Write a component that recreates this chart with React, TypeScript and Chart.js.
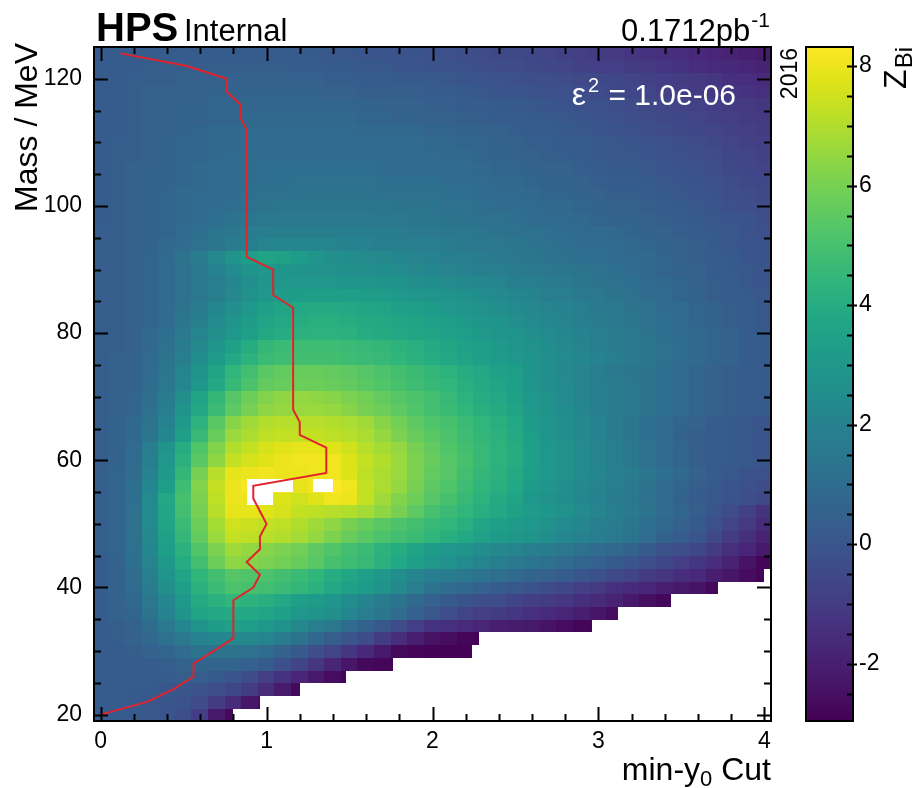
import React, { useEffect, useRef } from "react";
import { Chart, registerables } from "chart.js";

Chart.register(...registerables);

const FONT = '"Liberation Sans", Arial, Helvetica, sans-serif';

// Mass bin centres (MeV), 2 MeV wide
const massBins = [
  20, 22, 24, 26, 28, 30, 32, 34, 36, 38, 40, 42, 44, 46, 48, 50, 52, 54, 56, 58,
  60, 62, 64, 66, 68, 70, 72, 74, 76, 78, 80, 82, 84, 86, 88, 90, 92, 94, 96, 98,
  100, 102, 104, 106, 108, 110, 112, 114, 116, 118, 120, 122, 124,
];
const MASS_HALF_WIDTH = 1;

// min-y0 cut column centres, 0.1 wide
const cutBins = [
  0.0, 0.1, 0.2, 0.3, 0.4, 0.5, 0.6, 0.7, 0.8, 0.9, 1.0, 1.1, 1.2, 1.3, 1.4, 1.5, 1.6, 1.7, 1.8, 1.9, 2.0,
  2.1, 2.2, 2.3, 2.4, 2.5, 2.6, 2.7, 2.8, 2.9, 3.0, 3.1, 3.2, 3.3, 3.4, 3.5, 3.6, 3.7, 3.8, 3.9, 4.0,
];
const CUT_HALF_WIDTH = 0.05;

// Z_Bi significance, one row per mass bin (ascending mass), one entry per cut column;
// rows stop where the bins run out of entries
const zBi: number[][] = [
  [0.3, 0.3, 0.2, 0.1, 0.0, -0.3, -0.9, -2.2, -2.7],
  [0.3, 0.3, 0.2, 0.1, 0.0, -0.1, -0.4, -1.0, -1.6, -2.3, -2.6],
  [0.3, 0.3, 0.2, 0.2, 0.1, 0.0, -0.1, -0.3, -0.6, -1.0, -1.5, -2.1, -2.7],
  [0.3, 0.3, 0.3, 0.3, 0.3, 0.4, 0.4, 0.2, 0.0, -0.4, -0.9, -1.3, -1.8, -2.2, -2.6, -2.8],
  [0.3, 0.3, 0.3, 0.3, 0.4, 0.6, 0.7, 0.7, 0.7, 0.5, 0.3, -0.2, -0.7, -1.2, -1.8, -2.3, -2.7, -2.8, -2.9],
  [0.3, 0.3, 0.4, 0.5, 0.7, 1.0, 1.3, 1.3, 1.3, 1.2, 1.0, 0.6, 0.2, -0.3, -0.7, -1.2, -1.7, -2.2, -2.7, -2.8, -2.9, -2.9, -2.9],
  [0.3, 0.4, 0.5, 0.8, 1.2, 1.6, 2.0, 2.2, 2.3, 2.3, 2.1, 1.7, 1.3, 0.8, 0.4, 0.0, -0.4, -1.0, -1.5, -2.0, -2.4, -2.6, -2.8, -2.9],
  [0.3, 0.4, 0.6, 1.0, 1.6, 2.2, 2.8, 3.2, 3.5, 3.3, 3.0, 2.7, 2.3, 1.9, 1.5, 1.0, 0.6, 0.1, -0.4, -0.9, -1.3, -1.4, -1.6, -1.8, -2.0, -2.1, -2.2, -2.4, -2.6, -2.8, -2.9],
  [0.3, 0.5, 0.7, 1.3, 2.0, 2.8, 3.6, 3.8, 3.9, 3.8, 3.7, 3.4, 3.0, 2.8, 2.6, 2.2, 1.8, 1.4, 1.0, 0.5, 0.1, -0.3, -0.7, -0.9, -1.0, -1.2, -1.4, -1.6, -1.8, -2.0, -2.3, -2.6],
  [0.3, 0.5, 0.8, 1.5, 2.2, 3.1, 3.9, 4.2, 4.4, 4.3, 4.1, 3.8, 3.4, 3.2, 2.9, 2.5, 2.1, 1.7, 1.3, 0.9, 0.5, 0.2, -0.1, -0.3, -0.4, -0.7, -0.9, -1.0, -1.2, -1.4, -1.6, -1.9, -2.2, -2.5, -2.7],
  [0.3, 0.6, 0.9, 1.7, 2.6, 3.4, 4.2, 4.7, 5.1, 5.0, 4.9, 4.7, 4.5, 4.2, 3.8, 3.5, 3.2, 2.8, 2.3, 1.8, 1.3, 1.0, 0.8, 0.5, 0.3, 0.1, -0.1, -0.4, -0.6, -0.9, -1.1, -1.4, -1.6, -1.8, -2.0, -2.2, -2.4, -2.7],
  [0.3, 0.6, 1.0, 1.9, 2.8, 3.6, 4.4, 4.9, 5.3, 5.2, 5.1, 4.9, 4.7, 4.4, 4.0, 3.7, 3.4, 3.0, 2.5, 2.1, 1.8, 1.7, 1.5, 1.3, 1.1, 0.9, 0.7, 0.5, 0.3, 0.0, -0.2, -0.5, -0.7, -1.0, -1.2, -1.5, -1.7, -2.0, -2.3, -2.6, -2.8],
  [0.3, 0.6, 1.1, 2.1, 3.1, 4.0, 4.9, 5.8, 6.4, 6.3, 6.1, 5.9, 5.7, 5.4, 5.0, 4.8, 4.6, 4.2, 3.8, 3.4, 3.0, 2.7, 2.4, 2.1, 1.9, 1.6, 1.4, 1.2, 1.0, 0.7, 0.5, 0.2, 0.0, -0.3, -0.6, -0.9, -1.2, -1.5, -1.9, -2.4, -2.8],
  [0.4, 0.7, 1.2, 2.2, 3.3, 4.2, 5.2, 6.1, 6.7, 6.5, 6.3, 6.1, 5.9, 5.5, 5.2, 4.9, 4.7, 4.3, 4.0, 3.6, 3.2, 3.0, 2.8, 2.5, 2.3, 2.1, 1.9, 1.7, 1.5, 1.2, 1.0, 0.8, 0.6, 0.2, -0.1, -0.3, -0.6, -1.0, -1.4, -1.8, -2.2],
  [0.4, 0.7, 1.2, 2.3, 3.5, 4.5, 5.6, 6.6, 7.3, 7.2, 7.1, 7.0, 6.8, 6.5, 6.1, 5.7, 5.4, 5.1, 4.9, 4.7, 4.4, 4.1, 3.8, 3.5, 3.2, 3.0, 2.8, 2.5, 2.2, 2.0, 1.8, 1.6, 1.3, 1.0, 0.6, 0.3, 0.0, -0.5, -1.0, -1.4, -1.9],
  [0.4, 0.7, 1.2, 2.4, 3.6, 4.7, 5.8, 6.8, 7.5, 7.4, 7.3, 7.2, 7.0, 6.7, 6.4, 6.0, 5.7, 5.4, 5.1, 4.9, 4.6, 4.4, 4.1, 3.7, 3.4, 3.2, 3.0, 2.7, 2.4, 2.2, 1.9, 1.7, 1.4, 1.1, 0.8, 0.5, 0.2, -0.2, -0.7, -1.1, -1.6],
  [0.4, 0.7, 1.2, 2.4, 3.7, 4.9, 6.0, 7.1, 7.9, 7.9, 7.8, 7.6, 7.3, 7.2, 7.1, 7.0, 6.8, 6.4, 6.0, 5.5, 5.0, 4.7, 4.4, 4.1, 3.8, 3.5, 3.2, 3.0, 2.7, 2.4, 2.1, 1.9, 1.6, 1.3, 1.0, 0.7, 0.4, 0.0, -0.4, -0.8, -1.3],
  [0.4, 0.7, 1.1, 2.4, 3.8, 5.0, 6.1, 7.2, 8.0, 8.0, 7.9, 7.7, 7.5, 7.8, 8.1, 8.0, 7.3, 6.7, 6.2, 5.8, 5.3, 5.0, 4.6, 4.3, 3.9, 3.6, 3.0, 2.7, 2.5, 2.2, 2.0, 1.7, 1.5, 1.2, 0.9, 0.6, 0.3, 0.1, -0.1, -0.3, -0.5],
  [0.4, 0.7, 1.1, 2.2, 3.3, 4.8, 6.2, 7.3, 8.0, 8.2, 8.3, 8.1, 7.9, 8.1, 8.3, 8.1, 7.3, 6.9, 6.5, 6.0, 5.5, 5.2, 4.8, 4.4, 4.1, 3.8, 3.2, 2.9, 2.6, 2.3, 2.1, 1.8, 1.6, 1.3, 1.0, 0.7, 0.4, 0.2, 0.0, -0.2, -0.4],
  [0.4, 0.7, 1.0, 2.0, 3.1, 4.5, 6.0, 7.1, 7.9, 8.0, 8.1, 8.0, 8.0, 8.1, 8.1, 7.7, 7.2, 6.9, 6.6, 6.1, 5.6, 5.3, 4.9, 4.5, 4.2, 3.9, 3.3, 3.0, 2.7, 2.4, 2.2, 1.9, 1.7, 1.4, 1.1, 0.8, 0.5, 0.3, 0.1, -0.1, -0.2],
  [0.4, 0.6, 0.9, 1.9, 3.0, 4.2, 5.4, 6.4, 7.3, 7.6, 7.8, 8.0, 8.1, 8.1, 8.1, 7.7, 7.3, 7.0, 6.6, 6.1, 5.7, 5.3, 5.0, 4.6, 4.3, 4.0, 3.4, 3.0, 2.7, 2.4, 2.1, 1.8, 1.5, 1.2, 0.9, 0.7, 0.4, 0.3, 0.2, 0.1, 0.0],
  [0.4, 0.6, 0.9, 1.8, 2.8, 4.0, 5.2, 6.2, 7.0, 7.3, 7.6, 7.8, 7.9, 7.9, 7.8, 7.5, 7.1, 6.8, 6.5, 6.0, 5.6, 5.2, 4.9, 4.6, 4.3, 4.0, 3.4, 3.0, 2.7, 2.4, 2.1, 1.8, 1.5, 1.2, 0.9, 0.7, 0.4, 0.3, 0.2, 0.1, 0.0],
  [0.4, 0.6, 0.8, 1.4, 2.2, 3.4, 4.6, 5.7, 6.6, 6.9, 7.2, 7.3, 7.3, 7.3, 7.2, 7.1, 6.9, 6.5, 6.1, 5.7, 5.4, 5.1, 4.8, 4.5, 4.2, 3.9, 3.3, 2.9, 2.6, 2.3, 2.0, 1.7, 1.4, 1.1, 0.9, 0.6, 0.4, 0.3, 0.2, 0.1, 0.0],
  [0.4, 0.6, 0.8, 1.3, 2.0, 3.1, 4.3, 5.4, 6.3, 6.7, 7.0, 7.1, 7.1, 7.1, 7.0, 6.9, 6.7, 6.3, 5.9, 5.5, 5.2, 5.0, 4.7, 4.4, 4.1, 3.8, 3.2, 2.9, 2.6, 2.3, 2.0, 1.7, 1.4, 1.1, 0.9, 0.7, 0.5, 0.3, 0.2, 0.1, 0.0],
  [0.4, 0.5, 0.7, 1.2, 1.8, 2.8, 3.8, 4.7, 5.5, 6.0, 6.4, 6.5, 6.6, 6.6, 6.5, 6.3, 6.0, 5.8, 5.5, 5.2, 4.9, 4.7, 4.4, 4.1, 3.9, 3.6, 3.1, 2.8, 2.5, 2.2, 1.9, 1.7, 1.5, 1.3, 1.1, 0.9, 0.7, 0.5, 0.4, 0.3, 0.2],
  [0.4, 0.5, 0.7, 1.1, 1.7, 2.6, 3.6, 4.5, 5.3, 5.8, 6.2, 6.4, 6.5, 6.4, 6.3, 6.1, 5.9, 5.6, 5.3, 5.1, 4.9, 4.6, 4.3, 4.0, 3.8, 3.5, 3.0, 2.7, 2.4, 2.1, 1.9, 1.7, 1.5, 1.3, 1.1, 0.9, 0.7, 0.5, 0.4, 0.3, 0.2],
  [0.4, 0.5, 0.6, 1.0, 1.5, 2.2, 3.0, 3.8, 4.6, 5.1, 5.6, 5.7, 5.8, 5.8, 5.7, 5.6, 5.4, 5.2, 5.0, 4.8, 4.6, 4.4, 4.1, 3.9, 3.6, 3.4, 2.9, 2.6, 2.4, 2.1, 1.9, 1.7, 1.5, 1.3, 1.1, 0.9, 0.7, 0.5, 0.4, 0.3, 0.2],
  [0.4, 0.5, 0.6, 0.9, 1.4, 2.1, 2.8, 3.6, 4.4, 4.9, 5.4, 5.6, 5.7, 5.7, 5.6, 5.5, 5.3, 5.1, 4.9, 4.7, 4.5, 4.3, 4.0, 3.8, 3.5, 3.3, 2.8, 2.6, 2.3, 2.1, 1.8, 1.6, 1.4, 1.3, 1.1, 0.9, 0.7, 0.5, 0.4, 0.3, 0.2],
  [0.4, 0.5, 0.6, 0.9, 1.3, 1.9, 2.5, 3.2, 3.8, 4.3, 4.7, 4.8, 4.9, 4.9, 4.9, 4.8, 4.7, 4.6, 4.4, 4.2, 4.0, 3.8, 3.6, 3.4, 3.2, 3.0, 2.8, 2.6, 2.4, 2.2, 2.0, 1.8, 1.6, 1.4, 1.2, 1.0, 0.8, 0.7, 0.5, 0.3, 0.2],
  [0.4, 0.4, 0.5, 0.8, 1.2, 1.7, 2.3, 2.9, 3.5, 4.0, 4.5, 4.7, 4.8, 4.8, 4.8, 4.7, 4.6, 4.5, 4.3, 4.1, 3.9, 3.7, 3.5, 3.3, 3.1, 2.9, 2.7, 2.5, 2.3, 2.1, 1.9, 1.7, 1.5, 1.4, 1.2, 1.0, 0.8, 0.7, 0.5, 0.3, 0.2],
  [0.4, 0.4, 0.5, 0.8, 1.1, 1.6, 2.1, 2.6, 3.0, 3.4, 3.8, 4.0, 4.2, 4.3, 4.3, 4.2, 4.0, 3.9, 3.8, 3.7, 3.6, 3.5, 3.3, 3.1, 2.9, 2.8, 2.6, 2.4, 2.2, 2.0, 1.8, 1.7, 1.5, 1.3, 1.1, 1.0, 0.8, 0.7, 0.5, 0.3, 0.2],
  [0.4, 0.4, 0.5, 0.7, 1.0, 1.4, 1.9, 2.4, 2.8, 3.2, 3.6, 3.8, 4.0, 4.1, 4.1, 4.0, 3.9, 3.8, 3.7, 3.6, 3.4, 3.3, 3.1, 2.9, 2.8, 2.6, 2.4, 2.2, 2.1, 1.9, 1.7, 1.6, 1.4, 1.2, 1.1, 0.9, 0.7, 0.6, 0.4, 0.3, 0.1],
  [0.4, 0.4, 0.5, 0.7, 1.0, 1.3, 1.7, 2.2, 2.6, 3.0, 3.4, 3.6, 3.8, 3.9, 3.9, 3.8, 3.7, 3.6, 3.4, 3.3, 3.2, 3.0, 2.9, 2.7, 2.6, 2.4, 2.3, 2.1, 2.0, 1.8, 1.6, 1.5, 1.3, 1.2, 1.0, 0.9, 0.7, 0.6, 0.4, 0.3, 0.1],
  [0.4, 0.4, 0.5, 0.7, 0.9, 1.2, 1.5, 1.9, 2.3, 2.7, 3.0, 3.2, 3.3, 3.4, 3.4, 3.4, 3.3, 3.2, 3.1, 3.0, 2.9, 2.8, 2.7, 2.5, 2.4, 2.2, 2.1, 1.9, 1.8, 1.6, 1.5, 1.3, 1.2, 1.0, 0.9, 0.7, 0.6, 0.4, 0.3, 0.2, 0.1],
  [0.4, 0.4, 0.5, 0.7, 0.9, 1.2, 1.5, 1.8, 2.2, 2.6, 2.9, 3.0, 3.0, 3.0, 3.0, 2.9, 2.9, 2.8, 2.7, 2.6, 2.5, 2.4, 2.3, 2.2, 2.1, 1.9, 1.8, 1.7, 1.6, 1.4, 1.3, 1.2, 1.1, 0.9, 0.8, 0.7, 0.5, 0.4, 0.3, 0.1, 0.0],
  [0.4, 0.4, 0.5, 0.7, 0.9, 1.2, 1.5, 2.0, 2.4, 2.8, 3.0, 2.9, 2.8, 2.7, 2.7, 2.6, 2.6, 2.5, 2.4, 2.3, 2.2, 2.1, 2.0, 1.9, 1.8, 1.7, 1.6, 1.5, 1.4, 1.3, 1.2, 1.1, 1.0, 0.8, 0.7, 0.6, 0.5, 0.3, 0.2, 0.1, 0.0],
  [0.4, 0.4, 0.5, 0.7, 0.9, 1.3, 1.7, 2.3, 2.8, 3.3, 3.6, 3.5, 3.2, 2.9, 2.6, 2.5, 2.4, 2.3, 2.2, 2.1, 2.0, 1.9, 1.8, 1.7, 1.6, 1.5, 1.4, 1.3, 1.2, 1.1, 1.1, 1.0, 0.9, 0.8, 0.7, 0.5, 0.4, 0.3, 0.2, 0.0, -0.1],
  [0.4, 0.4, 0.5, 0.6, 0.8, 1.0, 1.2, 1.4, 1.7, 1.9, 2.1, 2.2, 2.2, 2.2, 2.1, 2.0, 2.0, 1.9, 1.9, 1.8, 1.8, 1.7, 1.6, 1.5, 1.5, 1.4, 1.3, 1.2, 1.1, 1.0, 1.0, 0.9, 0.8, 0.7, 0.6, 0.5, 0.4, 0.2, 0.1, 0.0, -0.1],
  [0.4, 0.4, 0.5, 0.6, 0.7, 0.9, 1.1, 1.3, 1.5, 1.7, 1.8, 1.9, 1.9, 1.9, 1.9, 1.8, 1.8, 1.7, 1.7, 1.6, 1.6, 1.5, 1.5, 1.4, 1.3, 1.2, 1.2, 1.1, 1.0, 0.9, 0.9, 0.8, 0.7, 0.6, 0.5, 0.4, 0.3, 0.2, 0.1, -0.1, -0.2],
  [0.3, 0.4, 0.5, 0.6, 0.7, 0.8, 1.0, 1.1, 1.3, 1.4, 1.5, 1.6, 1.6, 1.6, 1.6, 1.6, 1.6, 1.5, 1.5, 1.4, 1.4, 1.3, 1.3, 1.2, 1.2, 1.1, 1.0, 0.9, 0.9, 0.8, 0.7, 0.6, 0.6, 0.5, 0.4, 0.3, 0.2, 0.1, 0.0, -0.1, -0.3],
  [0.3, 0.4, 0.5, 0.6, 0.7, 0.8, 0.9, 1.0, 1.1, 1.2, 1.3, 1.4, 1.4, 1.4, 1.4, 1.4, 1.4, 1.4, 1.3, 1.3, 1.3, 1.2, 1.2, 1.1, 1.0, 1.0, 0.9, 0.8, 0.8, 0.7, 0.6, 0.5, 0.5, 0.4, 0.3, 0.2, 0.1, 0.0, -0.2, -0.3, -0.4],
  [0.3, 0.4, 0.5, 0.6, 0.7, 0.8, 0.9, 0.9, 1.0, 1.1, 1.2, 1.2, 1.3, 1.3, 1.3, 1.3, 1.3, 1.2, 1.2, 1.2, 1.2, 1.1, 1.1, 1.0, 0.9, 0.9, 0.8, 0.7, 0.7, 0.6, 0.5, 0.4, 0.4, 0.3, 0.2, 0.1, 0.0, -0.1, -0.3, -0.4, -0.5],
  [0.3, 0.4, 0.5, 0.6, 0.6, 0.7, 0.8, 0.9, 1.0, 1.0, 1.1, 1.1, 1.2, 1.2, 1.2, 1.2, 1.2, 1.1, 1.1, 1.1, 1.1, 1.0, 1.0, 0.9, 0.8, 0.8, 0.7, 0.6, 0.6, 0.5, 0.4, 0.3, 0.3, 0.2, 0.1, 0.0, -0.1, -0.2, -0.4, -0.5, -0.6],
  [0.3, 0.4, 0.5, 0.6, 0.6, 0.7, 0.8, 0.9, 0.9, 1.0, 1.1, 1.1, 1.1, 1.1, 1.1, 1.1, 1.1, 1.0, 1.0, 1.0, 1.0, 0.9, 0.9, 0.8, 0.7, 0.7, 0.6, 0.5, 0.5, 0.4, 0.3, 0.2, 0.2, 0.1, 0.0, -0.1, -0.2, -0.3, -0.5, -0.6, -0.7],
  [0.3, 0.4, 0.4, 0.5, 0.6, 0.7, 0.7, 0.8, 0.9, 1.0, 1.0, 1.0, 1.0, 1.0, 1.0, 1.0, 1.0, 1.0, 0.9, 0.9, 0.9, 0.8, 0.8, 0.7, 0.6, 0.6, 0.5, 0.4, 0.4, 0.3, 0.2, 0.1, 0.1, 0.0, -0.1, -0.2, -0.3, -0.4, -0.6, -0.7, -0.8],
  [0.3, 0.4, 0.4, 0.5, 0.6, 0.7, 0.7, 0.8, 0.8, 0.9, 0.9, 1.0, 1.0, 1.0, 1.0, 1.0, 0.9, 0.9, 0.9, 0.9, 0.8, 0.8, 0.7, 0.7, 0.6, 0.5, 0.4, 0.4, 0.3, 0.3, 0.2, 0.1, 0.0, -0.1, -0.2, -0.3, -0.4, -0.5, -0.7, -0.8, -0.9],
  [0.3, 0.3, 0.4, 0.5, 0.5, 0.6, 0.7, 0.8, 0.8, 0.9, 0.9, 0.9, 0.9, 0.9, 0.9, 0.9, 0.8, 0.8, 0.8, 0.8, 0.7, 0.7, 0.6, 0.6, 0.5, 0.4, 0.3, 0.3, 0.2, 0.1, 0.0, -0.1, -0.2, -0.3, -0.4, -0.5, -0.6, -0.7, -0.8, -0.9, -1.0],
  [0.3, 0.3, 0.4, 0.5, 0.5, 0.6, 0.6, 0.7, 0.7, 0.8, 0.8, 0.8, 0.8, 0.8, 0.8, 0.8, 0.7, 0.7, 0.6, 0.6, 0.5, 0.5, 0.4, 0.4, 0.3, 0.3, 0.2, 0.2, 0.1, 0.0, -0.1, -0.2, -0.3, -0.4, -0.5, -0.6, -0.7, -0.8, -0.9, -1.0, -1.1],
  [0.3, 0.3, 0.4, 0.5, 0.5, 0.6, 0.6, 0.7, 0.7, 0.7, 0.7, 0.7, 0.7, 0.7, 0.7, 0.7, 0.6, 0.6, 0.5, 0.5, 0.4, 0.4, 0.3, 0.3, 0.2, 0.2, 0.1, 0.0, -0.1, -0.2, -0.2, -0.3, -0.4, -0.5, -0.6, -0.7, -0.8, -0.9, -1.0, -1.1, -1.2],
  [0.3, 0.3, 0.4, 0.5, 0.5, 0.5, 0.5, 0.6, 0.6, 0.6, 0.6, 0.6, 0.6, 0.6, 0.5, 0.5, 0.4, 0.4, 0.4, 0.4, 0.3, 0.3, 0.2, 0.1, 0.0, 0.0, -0.1, -0.2, -0.2, -0.3, -0.4, -0.5, -0.6, -0.7, -0.8, -0.9, -1.0, -1.1, -1.2, -1.3, -1.4],
  [0.3, 0.3, 0.4, 0.4, 0.4, 0.5, 0.5, 0.5, 0.5, 0.5, 0.5, 0.5, 0.5, 0.5, 0.4, 0.4, 0.3, 0.3, 0.2, 0.2, 0.2, 0.1, 0.0, 0.0, -0.1, -0.2, -0.3, -0.3, -0.4, -0.5, -0.5, -0.6, -0.7, -0.8, -0.9, -1.0, -1.1, -1.2, -1.4, -1.5, -1.6],
  [0.3, 0.3, 0.3, 0.4, 0.4, 0.4, 0.4, 0.4, 0.4, 0.4, 0.4, 0.4, 0.3, 0.3, 0.2, 0.2, 0.1, 0.1, 0.0, 0.0, -0.1, -0.1, -0.2, -0.3, -0.4, -0.4, -0.5, -0.6, -0.7, -0.8, -0.9, -0.9, -1.0, -1.1, -1.2, -1.3, -1.5, -1.6, -1.7, -1.8, -1.9],
  [0.3, 0.3, 0.3, 0.3, 0.3, 0.3, 0.3, 0.3, 0.3, 0.3, 0.3, 0.3, 0.2, 0.2, 0.1, 0.1, 0.0, 0.0, -0.1, -0.1, -0.2, -0.2, -0.3, -0.4, -0.5, -0.5, -0.6, -0.7, -0.8, -0.9, -1.0, -1.1, -1.2, -1.3, -1.4, -1.5, -1.7, -1.8, -1.9, -2.0, -2.1],
];

// Largest cut value with entries, for the lowest mass bins (20 ... 42 MeV)
const lowMassCutLimit = [0.8, 0.96, 1.2, 1.48, 1.76, 2.24, 2.28, 2.96, 3.12, 3.44, 3.72, 4.0];

// Bins without an entry: [mass, cut from, cut to]
const emptyCells: [number, number, number][] = [
  [54, 0.88, 1.04],
  [56, 0.88, 1.16],
  [56, 1.28, 1.4],
];

// Optimal min-y0 cut for each mass bin
const optimalCut = [
  0.0, 0.28, 0.44, 0.56, 0.56, 0.68, 0.8, 0.8, 0.8, 0.8, 0.92, 0.96, 0.88, 0.96, 0.96, 1.0, 0.96, 0.92, 0.92, 1.36,
  1.36, 1.36, 1.2, 1.2, 1.16, 1.16, 1.16, 1.16, 1.16, 1.16, 1.16, 1.16, 1.16, 1.04, 1.04, 1.04, 0.88, 0.88, 0.88, 0.88,
  0.88, 0.88, 0.88, 0.88, 0.88, 0.88, 0.88, 0.84, 0.84, 0.76, 0.76, 0.52, 0.12,
];

const xTickValues = [0, 1, 2, 3, 4];
const yTickValues = [20, 40, 60, 80, 100, 120];
const zTickValues = [-2, 0, 2, 4, 6, 8];

const X_MIN = -0.04;
const X_MAX = 4.04;
const Y_MIN = 19;
const Y_MAX = 125;
const Z_MIN = -2.96;
const Z_MAX = 8.32;

const VIRIDIS = [
  "#440154", "#471365", "#482475", "#463480", "#414487", "#3b528b", "#355f8d",
  "#2f6c8e", "#2a788e", "#25848e", "#21918c", "#1e9c89", "#22a884", "#2fb47c",
  "#44bf70", "#5ec962", "#7ad151", "#9bd93c", "#bddf26", "#dfe318", "#fde725",
];
const VIRIDIS_RGB = VIRIDIS.map((h) => [
  parseInt(h.slice(1, 3), 16),
  parseInt(h.slice(3, 5), 16),
  parseInt(h.slice(5, 7), 16),
]);

function paletteColor(v: number): string {
  const t = Math.min(1, Math.max(0, (v - Z_MIN) / (Z_MAX - Z_MIN)));
  const p = t * (VIRIDIS_RGB.length - 1);
  const k = Math.min(VIRIDIS_RGB.length - 2, Math.floor(p));
  const f = p - k;
  const a = VIRIDIS_RGB[k];
  const b = VIRIDIS_RGB[k + 1];
  const c = a.map((ch, i) => Math.round(ch + (b[i] - ch) * f));
  return `rgb(${c[0]},${c[1]},${c[2]})`;
}

const heatmapPlugin = {
  id: "heatmap",
  beforeDatasetsDraw(chart: any) {
    const { ctx, chartArea: a, scales } = chart;
    const xs = scales.x;
    const ys = scales.y;
    ctx.save();
    ctx.beginPath();
    ctx.rect(a.left, a.top, a.right - a.left, a.bottom - a.top);
    ctx.clip();
    massBins.forEach((m, i) => {
      const row = zBi[i];
      const limit = i < lowMassCutLimit.length ? lowMassCutLimit[i] : Infinity;
      const yTop = Math.floor(ys.getPixelForValue(m + MASS_HALF_WIDTH));
      const yBot = Math.ceil(ys.getPixelForValue(m - MASS_HALF_WIDTH));
      cutBins.forEach((c, j) => {
        const v = row[j];
        if (v == null) return;
        const lo = c - CUT_HALF_WIDTH;
        const hi = Math.min(c + CUT_HALF_WIDTH, limit);
        if (hi <= lo) return;
        const x0 = Math.floor(xs.getPixelForValue(lo));
        const x1 = hi === limit ? Math.round(xs.getPixelForValue(hi)) : Math.ceil(xs.getPixelForValue(hi));
        ctx.fillStyle = paletteColor(v);
        ctx.fillRect(x0, yTop, x1 - x0, yBot - yTop);
      });
    });
    ctx.fillStyle = "#ffffff";
    emptyCells.forEach(([m, lo, hi]) => {
      const x0 = Math.round(xs.getPixelForValue(lo));
      const x1 = Math.round(xs.getPixelForValue(hi));
      const y0 = Math.round(ys.getPixelForValue(m + MASS_HALF_WIDTH));
      const y1 = Math.round(ys.getPixelForValue(m - MASS_HALF_WIDTH));
      ctx.fillRect(x0, y0, x1 - x0, y1 - y0);
    });
    ctx.restore();
  },
};

function drawRotated(ctx: CanvasRenderingContext2D, x: number, yEnd: number, draw: () => void) {
  ctx.save();
  ctx.translate(x, yEnd);
  ctx.rotate(-Math.PI / 2);
  draw();
  ctx.restore();
}

const frameTextPlugin = {
  id: "frameText",
  afterDraw(chart: any) {
    const { ctx, chartArea: a, scales } = chart;
    const xs = scales.x;
    const ys = scales.y;
    const zs = scales.z;
    ctx.save();

    // frame
    ctx.strokeStyle = "#000";
    ctx.lineWidth = 2;
    ctx.strokeRect(a.left, a.top, a.right - a.left, a.bottom - a.top);

    // ticks on all four sides, pointing inwards
    ctx.lineWidth = 2;
    ctx.beginPath();
    for (let k = 0; k <= 20; k++) {
      const v = k * 0.2;
      const px = Math.round(xs.getPixelForValue(v)) + 0.5;
      const len = k % 5 === 0 ? 14 : 7;
      ctx.moveTo(px, a.bottom);
      ctx.lineTo(px, a.bottom - len);
      ctx.moveTo(px, a.top);
      ctx.lineTo(px, a.top + len);
    }
    for (let v = 20; v <= 120; v += 5) {
      const py = Math.round(ys.getPixelForValue(v)) + 0.5;
      const len = v % 20 === 0 ? 14 : 7;
      ctx.moveTo(a.left, py);
      ctx.lineTo(a.left + len, py);
      ctx.moveTo(a.right, py);
      ctx.lineTo(a.right - len, py);
    }
    ctx.stroke();

    // colour bar
    const barL = a.right + 35;
    const barR = a.right + 82;
    const zTop = zs.getPixelForValue(Z_MAX);
    const zBot = zs.getPixelForValue(Z_MIN);
    const grad = ctx.createLinearGradient(0, zBot, 0, zTop);
    VIRIDIS.forEach((c, i) => grad.addColorStop(i / (VIRIDIS.length - 1), c));
    ctx.fillStyle = grad;
    ctx.fillRect(barL, zTop, barR - barL, zBot - zTop);
    ctx.lineWidth = 2;
    ctx.strokeRect(barL, zTop, barR - barL, zBot - zTop);
    ctx.beginPath();
    for (let v = -2.5; v <= 8; v += 0.5) {
      const py = Math.round(zs.getPixelForValue(v)) + 0.5;
      const major = Math.abs(v % 2) < 1e-6;
      ctx.moveTo(barR - 6, py);
      ctx.lineTo(major ? barR + 4 : barR, py);
    }
    ctx.stroke();

    // header
    ctx.fillStyle = "#000";
    ctx.textBaseline = "alphabetic";
    ctx.textAlign = "left";
    ctx.font = `bold 40px ${FONT}`;
    ctx.fillText("HPS", 96, 41);
    ctx.font = `31px ${FONT}`;
    ctx.fillText("Internal", 184, 41);

    // luminosity
    ctx.font = `21px ${FONT}`;
    const supW = ctx.measureText("-1").width;
    ctx.font = `31px ${FONT}`;
    const lumW = ctx.measureText("0.1712pb").width;
    const lumX = a.right - 2 - supW - lumW;
    ctx.fillText("0.1712pb", lumX, 41);
    ctx.font = `21px ${FONT}`;
    ctx.fillText("-1", lumX + lumW + 1, 27);

    // coupling label
    ctx.fillStyle = "#ffffff";
    ctx.font = `32px ${FONT}`;
    const epsW = ctx.measureText("\u03b5").width;
    ctx.font = `30px ${FONT}`;
    const restW = ctx.measureText(" = 1.0e-06").width;
    ctx.font = `20px ${FONT}`;
    const twoW = ctx.measureText("2").width;
    const epsX = a.right - 35 - restW - twoW - epsW - 3;
    ctx.font = `32px ${FONT}`;
    ctx.fillText("\u03b5", epsX, 105);
    ctx.font = `30px ${FONT}`;
    ctx.fillText(" = 1.0e-06", epsX + epsW + twoW + 3, 105);
    ctx.font = `20px ${FONT}`;
    ctx.fillText("2", epsX + epsW + 2, 92);

    // year, vertical, between frame and colour bar
    ctx.fillStyle = "#000";
    drawRotated(ctx, a.right + 26, a.top + 1, () => {
      ctx.font = `23px ${FONT}`;
      ctx.textAlign = "right";
      ctx.fillText("2016", 0, 0);
    });

    // y axis title
    drawRotated(ctx, 37, a.top - 4, () => {
      ctx.font = `32px ${FONT}`;
      ctx.textAlign = "right";
      ctx.fillText("Mass / MeV", 0, 0);
    });

    // colour bar title Z_Bi
    drawRotated(ctx, 906, a.top, () => {
      ctx.textAlign = "left";
      ctx.font = `24px ${FONT}`;
      const biW = ctx.measureText("Bi").width;
      ctx.font = `32px ${FONT}`;
      const zW = ctx.measureText("Z").width;
      ctx.fillText("Z", -(zW + biW + 1), 0);
      ctx.font = `24px ${FONT}`;
      ctx.fillText("Bi", -biW, 6);
    });

    // x axis title: min-y0 Cut
    ctx.textAlign = "left";
    ctx.font = `32px ${FONT}`;
    const partA = "min-y";
    const partB = " Cut";
    const wA = ctx.measureText(partA).width;
    const wB = ctx.measureText(partB).width;
    ctx.font = `22px ${FONT}`;
    const wSub = ctx.measureText("0").width;
    const tx = a.right - wA - wB - wSub;
    ctx.font = `32px ${FONT}`;
    ctx.fillText(partA, tx, 780);
    ctx.fillText(partB, tx + wA + wSub, 780);
    ctx.font = `22px ${FONT}`;
    ctx.fillText("0", tx + wA, 786);

    ctx.restore();
  },
};

// keep the chart area fixed: scales contribute no extra edge padding
function fixedSize(dim: "width" | "height", size: number) {
  return (s: any) => {
    s[dim] = size;
    s.paddingTop = 0;
    s.paddingBottom = 0;
    s.paddingLeft = 0;
    s.paddingRight = 0;
  };
}

export default function App() {
  const canvasRef = useRef<HTMLCanvasElement | null>(null);

  useEffect(() => {
    const canvas = canvasRef.current;
    if (!canvas) return;
    Chart.defaults.font.family = FONT;

    const tickFont = { family: FONT, size: 23 };
    const chart = new Chart(canvas, {
      type: "scatter",
      data: {
        datasets: [
          {
            label: "optimal cut",
            data: massBins.map((m, i) => ({ x: optimalCut[i], y: m })),
            showLine: true,
            borderColor: "#e3232b",
            borderWidth: 2,
            pointRadius: 0,
            tension: 0,
            fill: false,
          },
        ],
      },
      options: {
        responsive: false,
        animation: false,
        devicePixelRatio: 1,
        events: [],
        layout: { padding: { top: 47, left: 0, right: 0, bottom: 0 } },
        plugins: { legend: { display: false }, tooltip: { enabled: false } },
        scales: {
          x: {
            type: "linear",
            position: "bottom",
            min: X_MIN,
            max: X_MAX,
            grid: { display: false, drawTicks: false },
            border: { display: false },
            ticks: { font: tickFont, color: "#000", padding: 7, autoSkip: false, maxRotation: 0 },
            afterBuildTicks: (s: any) => {
              s.ticks = xTickValues.map((v) => ({ value: v }));
            },
            afterFit: fixedSize("height", 67),
          },
          y: {
            type: "linear",
            position: "left",
            min: Y_MIN,
            max: Y_MAX,
            grid: { display: false, drawTicks: false },
            border: { display: false },
            ticks: { font: tickFont, color: "#000", padding: 12, autoSkip: false },
            afterBuildTicks: (s: any) => {
              s.ticks = yTickValues.map((v) => ({ value: v }));
            },
            afterFit: fixedSize("width", 94),
          },
          z: {
            type: "linear",
            axis: "y",
            position: "right",
            min: Z_MIN,
            max: Z_MAX,
            grid: { display: false, drawTicks: false },
            border: { display: false },
            ticks: { font: tickFont, color: "#000", padding: 88, autoSkip: false },
            afterBuildTicks: (s: any) => {
              s.ticks = zTickValues.map((v) => ({ value: v }));
            },
            afterFit: fixedSize("width", 145),
          },
        },
      } as any,
      plugins: [heatmapPlugin, frameTextPlugin],
    });
    return () => chart.destroy();
  }, []);

  return (
    <div style={{ position: "absolute", left: 0, top: 0, width: 916, height: 788, background: "#fff" }}>
      <canvas ref={canvasRef} width={916} height={788} style={{ display: "block", width: 916, height: 788 }} />
    </div>
  );
}
